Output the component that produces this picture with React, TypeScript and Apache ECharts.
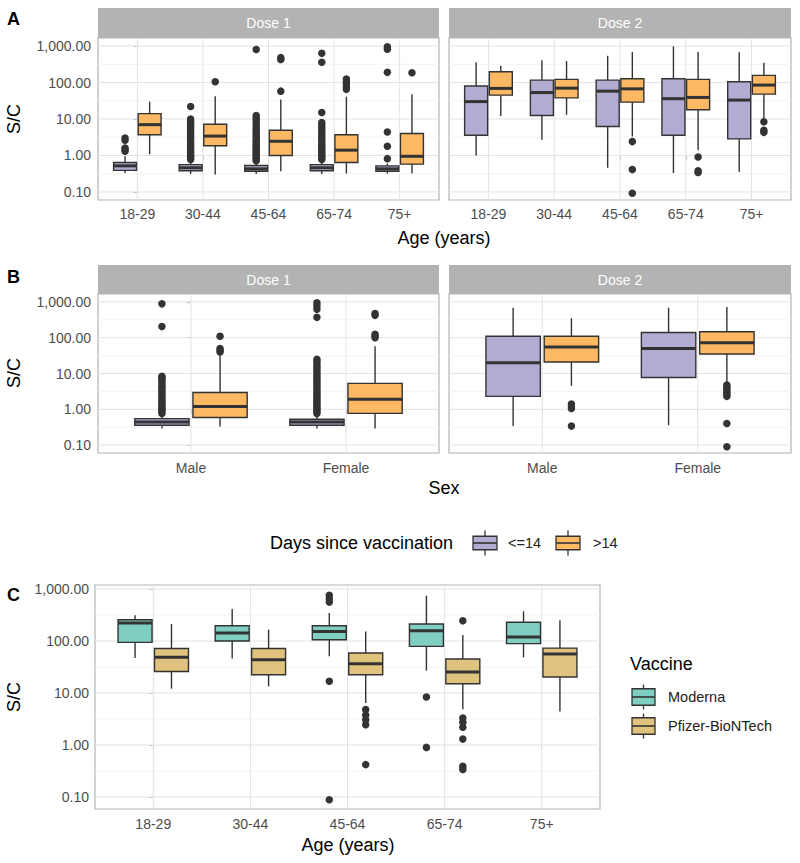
import React, { useEffect, useRef } from "react";
import * as echarts from "echarts";

// ---------- categories / labels ----------
const ageGroups = ["18-29", "30-44", "45-64", "65-74", "75+"];
const sexGroups = ["Male", "Female"];
const doseLabels = ["Dose 1", "Dose 2"];
const daysGroups = ["<=14", ">14"];
const vaccineGroups = ["Moderna", "Pfizer-BioNTech"];
const yTickValues = [0.1, 1, 10, 100, 1000];
const yTickLabels = ["0.10", "1.00", "10.00", "100.00", "1,000.00"];

// ---------- box statistics: [lower whisker, Q1, median, Q3, upper whisker] ----------
// Panel A, Dose 1, by age
const ageD1Early = [
  [0.33, 0.39, 0.52, 0.64, 0.95],
  [0.31, 0.38, 0.46, 0.56, 0.72],
  [0.31, 0.37, 0.43, 0.53, 0.68],
  [0.31, 0.38, 0.46, 0.56, 0.72],
  [0.32, 0.37, 0.43, 0.52, 0.6],
];
const ageD1EarlyOut = [
  [1.3, 1.45, 1.6, 2.6, 3.0],
  [0.78, 0.85, 0.95, 1.05, 1.2, 1.35, 1.5, 1.7, 1.9, 2.2, 2.5, 2.9, 3.3, 3.8, 4.4, 5.0, 5.8, 6.6, 7.6, 8.7, 10, 22],
  [0.72, 0.8, 0.9, 1.0, 1.12, 1.25, 1.4, 1.6, 1.8, 2.0, 2.3, 2.6, 3.0, 3.4, 3.9, 4.5, 5.2, 6.0, 7.0, 8.2, 9.5, 11, 12.5, 800],
  [0.78, 0.86, 0.95, 1.05, 1.18, 1.3, 1.45, 1.65, 1.85, 2.1, 2.4, 2.8, 3.2, 3.7, 4.3, 5.0, 5.8, 6.8, 8.0, 15, 360, 630],
  [0.82, 1.8, 4.4, 190, 820, 950],
];
const ageD1Late = [
  [1.08, 3.7, 7.0, 14, 30],
  [0.3, 1.85, 3.4, 7.2, 42],
  [0.37, 1.0, 2.45, 4.9, 34],
  [0.32, 0.64, 1.4, 3.7, 41],
  [0.32, 0.58, 0.95, 4.0, 48],
];
const ageD1LateOut = [[], [105], [58, 430, 480], [65, 75, 90, 105, 125], [185]];

// Panel A, Dose 2, by age
const ageD2Early = [
  [1.0, 3.6, 30, 80, 360],
  [2.7, 12.5, 53, 116, 410],
  [0.46, 6.2, 58, 116, 540],
  [0.33, 3.6, 36, 127, 980],
  [0.35, 2.85, 33, 105, 670],
];
const ageD2EarlyOut = [[], [], [], [], []];
const ageD2Late = [
  [12, 45, 69, 197, 288],
  [13, 38, 70, 122, 387],
  [3.3, 29, 67, 127, 684],
  [1.4, 18, 39, 122, 684],
  [10.3, 48, 85, 157, 348],
];
const ageD2LateOut = [[], [], [2.4, 0.41, 0.092], [0.91, 0.38, 0.34], [8.4, 4.9, 4.3]];

// Panel B, by sex
const sexD1Early = [
  [0.29, 0.36, 0.44, 0.55, 0.72],
  [0.29, 0.36, 0.44, 0.53, 0.72],
];
const sexD1EarlyOut = [
  [0.76, 0.85, 0.95, 1.05, 1.2, 1.35, 1.5, 1.7, 1.95, 2.2, 2.5, 2.9, 3.3, 3.8, 4.4, 5.1, 5.9, 6.8, 7.8, 8.4, 205, 880],
  [0.76, 0.85, 0.95, 1.05, 1.2, 1.35, 1.5, 1.7, 1.95, 2.2, 2.5, 2.9, 3.3, 3.8, 4.4, 5.1, 5.9, 6.8, 7.8, 9.0, 10.5, 12, 14, 16, 19, 22, 25, 370, 620, 780, 950],
];
const sexD1Late = [
  [0.33, 0.59, 1.2, 2.95, 32],
  [0.29, 0.77, 1.9, 5.3, 58],
];
const sexD1LateOut = [[40, 44, 50, 110], [100, 112, 125, 420, 470]];
const sexD2Early = [
  [0.34, 2.3, 20, 110, 690],
  [0.36, 7.7, 50, 139, 690],
];
const sexD2EarlyOut = [[], []];
const sexD2Late = [
  [4.5, 21, 55, 110, 350],
  [5.3, 35, 72, 146, 725],
];
const sexD2LateOut = [[1.4, 1.2, 1.05, 0.34], [4.8, 4.2, 3.7, 3.3, 2.9, 2.6, 2.3, 0.4, 0.09]];

// Panel C, by vaccine
const moderna = [
  [47, 94, 222, 257, 312],
  [46, 100, 143, 197, 412],
  [51, 106, 153, 197, 345],
  [27, 79, 158, 212, 745],
  [48.5, 89, 119, 229, 372],
];
const modernaOut = [[], [], [16.8, 0.089, 560, 650, 760], [8.4, 0.9], []];
const pfizer = [
  [12.1, 26, 48.5, 72, 212],
  [13.4, 22.5, 43.7, 72, 165],
  [6.4, 22.5, 36.6, 59, 153],
  [4.9, 15.1, 25.4, 45, 130],
  [4.4, 20.3, 56, 73, 250],
];
const pfizerOut = [[], [], [4.8, 3.8, 3.07, 2.46, 0.42], [246, 3.3, 2.73, 2.19, 1.3, 0.39, 0.34], []];

// ---------- styling ----------
const FONT = "'Liberation Sans', Arial, Helvetica, sans-serif";
const PURPLE = "#B2ABD2";
const ORANGE = "#FDB863";
const TEAL = "#80CDC1";
const TAN = "#DFC27D";
const LINE = "#333333";
const BORDER = "#B3B3B3";
const BOX_W = 0.35;
const DODGE = 0.1875;

const L = (v: number) => Math.log10(v);

function boxSeries(ax: number, stats: number[][], offset: number, fill: string, name: string) {
  return {
    type: "custom",
    name,
    xAxisIndex: ax,
    yAxisIndex: ax,
    z: 5,
    silent: true,
    encode: { x: 0, y: [1, 2, 3, 4, 5] },
    data: stats.map((s, i) => [i, ...s.map(L)]),
    renderItem: (params: any, api: any) => {
      const x = api.value(0) + offset;
      const lo = api.coord([x, api.value(1)]);
      const q1 = api.coord([x, api.value(2)]);
      const md = api.coord([x, api.value(3)]);
      const q3 = api.coord([x, api.value(4)]);
      const hi = api.coord([x, api.value(5)]);
      const w = api.size([BOX_W, 0])[0];
      const cx = lo[0];
      const ls = { stroke: LINE, lineWidth: 1.4 };
      return {
        type: "group",
        children: [
          { type: "line", shape: { x1: cx, y1: hi[1], x2: cx, y2: q3[1] }, style: ls },
          { type: "line", shape: { x1: cx, y1: q1[1], x2: cx, y2: lo[1] }, style: ls },
          {
            type: "rect",
            shape: { x: cx - w / 2, y: q3[1], width: w, height: q1[1] - q3[1] },
            style: { fill, stroke: LINE, lineWidth: 1.4 },
          },
          {
            type: "line",
            shape: { x1: cx - w / 2, y1: md[1], x2: cx + w / 2, y2: md[1] },
            style: { stroke: LINE, lineWidth: 3 },
          },
        ],
      };
    },
  };
}

function outlierSeries(ax: number, outliers: number[][], offset: number) {
  const data: number[][] = [];
  outliers.forEach((arr, i) => arr.forEach((v) => data.push([i + offset, L(v)])));
  return {
    type: "scatter",
    xAxisIndex: ax,
    yAxisIndex: ax,
    z: 6,
    silent: true,
    symbolSize: 7.5,
    itemStyle: { color: LINE, opacity: 1 },
    data,
  };
}

function gridLineSeries(ax: number, cats: string[]) {
  const major = yTickValues.map(L);
  const minor = yTickValues.slice(0, -1).map((v) => L(v) + 0.5);
  const hline = (color: string, width: number) => (params: any, api: any) => {
    const cs = params.coordSys;
    const p = api.coord([0, api.value(1)]);
    return {
      type: "line",
      shape: { x1: cs.x, y1: p[1], x2: cs.x + cs.width, y2: p[1] },
      style: { stroke: color, lineWidth: width },
    };
  };
  const vline = (params: any, api: any) => {
    const cs = params.coordSys;
    const p = api.coord([api.value(0), 0]);
    return {
      type: "line",
      shape: { x1: p[0], y1: cs.y, x2: p[0], y2: cs.y + cs.height },
      style: { stroke: "#E3E3E3", lineWidth: 1 },
    };
  };
  return [
    { type: "custom", xAxisIndex: ax, yAxisIndex: ax, z: 1, silent: true, data: minor.map((v) => [0, v]), renderItem: hline("#F0F0F0", 0.8) },
    { type: "custom", xAxisIndex: ax, yAxisIndex: ax, z: 1, silent: true, data: major.map((v) => [0, v]), renderItem: hline("#E3E3E3", 1) },
    { type: "custom", xAxisIndex: ax, yAxisIndex: ax, z: 1, silent: true, data: cats.map((_, i) => [i, 0]), renderItem: vline },
  ];
}

function xAxisFor(ax: number, cats: string[], margin: number) {
  const vals = cats.map((_, i) => i);
  return {
    type: "value",
    gridIndex: ax,
    min: -0.6,
    max: cats.length - 0.4,
    axisLine: { show: false },
    splitLine: { show: false },
    axisTick: { show: true, customValues: vals, length: 4, lineStyle: { color: BORDER, width: 1 } },
    axisLabel: {
      customValues: vals,
      formatter: (v: number) => cats[Math.round(v)] ?? "",
      color: "#4D4D4D",
      fontSize: 14,
      fontFamily: FONT,
      margin,
    },
  };
}

function yAxisFor(ax: number, min: number, max: number, show: boolean, margin: number) {
  const vals = yTickValues.map(L);
  return {
    type: "value",
    gridIndex: ax,
    min,
    max,
    axisLine: { show: false },
    splitLine: { show: false },
    axisTick: { show, customValues: vals, length: 4, lineStyle: { color: BORDER, width: 1 } },
    axisLabel: {
      show,
      customValues: vals,
      formatter: (v: number) => {
        const i = vals.findIndex((t) => Math.abs(t - v) < 1e-6);
        return i >= 0 ? yTickLabels[i] : "";
      },
      color: "#4D4D4D",
      fontSize: 14,
      fontFamily: FONT,
      margin,
    },
  };
}

function text(x: number, y: number, t: string, size: number, opts: any = {}) {
  return {
    type: "text",
    x,
    y,
    rotation: opts.rotation || 0,
    silent: true,
    style: {
      text: t,
      fill: opts.fill || "#000",
      fontSize: size,
      fontWeight: opts.bold ? "bold" : "normal",
      fontFamily: FONT,
      textAlign: opts.align || "center",
      textVerticalAlign: "middle",
    },
  };
}

function strip(g: any, h: number, label: string) {
  return [
    { type: "rect", silent: true, shape: { x: g.left, y: g.top - h, width: g.width, height: h }, style: { fill: BORDER } },
    text(g.left + g.width / 2, g.top - h / 2, label, 14, { fill: "#FFFFFF" }),
  ];
}

function legendKey(x: number, yc: number, w: number, boxH: number, whiskH: number, fill: string) {
  return {
    type: "group",
    silent: true,
    children: [
      { type: "line", shape: { x1: x + w / 2, y1: yc - whiskH / 2, x2: x + w / 2, y2: yc + whiskH / 2 }, style: { stroke: LINE, lineWidth: 1.3 } },
      { type: "rect", shape: { x, y: yc - boxH / 2, width: w, height: boxH }, style: { fill, stroke: LINE, lineWidth: 1.3 } },
      { type: "line", shape: { x1: x, y1: yc, x2: x + w, y2: yc }, style: { stroke: LINE, lineWidth: 1.6 } },
    ],
  };
}

const grids = [
  { left: 98, top: 38, width: 341, height: 162 },
  { left: 449, top: 38, width: 342, height: 162 },
  { left: 98, top: 294, width: 341, height: 159 },
  { left: 449, top: 294, width: 342, height: 159 },
  { left: 95, top: 585, width: 505, height: 224 },
];

export default function App() {
  const ref = useRef<HTMLDivElement>(null);
  useEffect(() => {
    if (!ref.current) return;
    const chart = echarts.init(ref.current, null, { renderer: "svg" });
    const series: any[] = [];
    const panels = [
      { ax: 0, cats: ageGroups, a: ageD1Early, ao: ageD1EarlyOut, b: ageD1Late, bo: ageD1LateOut, ca: PURPLE, cb: ORANGE },
      { ax: 1, cats: ageGroups, a: ageD2Early, ao: ageD2EarlyOut, b: ageD2Late, bo: ageD2LateOut, ca: PURPLE, cb: ORANGE },
      { ax: 2, cats: sexGroups, a: sexD1Early, ao: sexD1EarlyOut, b: sexD1Late, bo: sexD1LateOut, ca: PURPLE, cb: ORANGE },
      { ax: 3, cats: sexGroups, a: sexD2Early, ao: sexD2EarlyOut, b: sexD2Late, bo: sexD2LateOut, ca: PURPLE, cb: ORANGE },
      { ax: 4, cats: ageGroups, a: moderna, ao: modernaOut, b: pfizer, bo: pfizerOut, ca: TEAL, cb: TAN },
    ];
    panels.forEach((p) => {
      const names = p.ax === 4 ? vaccineGroups : daysGroups;
      series.push(...gridLineSeries(p.ax, p.cats));
      series.push(boxSeries(p.ax, p.a, -DODGE, p.ca, names[0]));
      series.push(boxSeries(p.ax, p.b, DODGE, p.cb, names[1]));
      series.push(outlierSeries(p.ax, p.ao, -DODGE));
      series.push(outlierSeries(p.ax, p.bo, DODGE));
    });

    const graphic: any[] = [
      ...strip(grids[0], 30, doseLabels[0]),
      ...strip(grids[1], 30, doseLabels[1]),
      ...strip(grids[2], 29, doseLabels[0]),
      ...strip(grids[3], 29, doseLabels[1]),
      text(7, 19, "A", 18, { bold: true, align: "left" }),
      text(7, 277, "B", 18, { bold: true, align: "left" }),
      text(7, 595, "C", 18, { bold: true, align: "left" }),
      text(14, 119, "S/C", 18, { rotation: Math.PI / 2 }),
      text(14, 373, "S/C", 18, { rotation: Math.PI / 2 }),
      text(14, 697, "S/C", 18, { rotation: Math.PI / 2 }),
      text(444, 238, "Age (years)", 18),
      text(444, 488, "Sex", 18),
      text(348, 845, "Age (years)", 18),
      text(270, 543, "Days since vaccination", 18, { align: "left" }),
      legendKey(473, 543, 24, 13.5, 25, PURPLE),
      text(508, 543, daysGroups[0], 14.5, { align: "left", fill: "#222" }),
      legendKey(556, 543, 24, 13.5, 25, ORANGE),
      text(593, 543, daysGroups[1], 14.5, { align: "left", fill: "#222" }),
      text(630, 664, "Vaccine", 18, { align: "left" }),
      legendKey(632, 697, 23, 16.5, 25, TEAL),
      text(668, 697, vaccineGroups[0], 14.5, { align: "left", fill: "#222" }),
      legendKey(632, 726, 23, 16.5, 25, TAN),
      text(668, 726, vaccineGroups[1], 14.5, { align: "left", fill: "#222" }),
    ];

    chart.setOption({
      animation: false,
      backgroundColor: "#FFFFFF",
      textStyle: { fontFamily: FONT },
      grid: grids.map((g) => ({
        ...g,
        show: true,
        backgroundColor: "transparent",
        borderColor: BORDER,
        borderWidth: 1.2,
        containLabel: false,
      })),
      xAxis: [
        xAxisFor(0, ageGroups, 7),
        xAxisFor(1, ageGroups, 7),
        xAxisFor(2, sexGroups, 8),
        xAxisFor(3, sexGroups, 8),
        xAxisFor(4, ageGroups, 8),
      ],
      yAxis: [
        yAxisFor(0, -1.22, 3.22, true, 7),
        yAxisFor(1, -1.22, 3.22, false, 7),
        yAxisFor(2, -1.22, 3.22, true, 7),
        yAxisFor(3, -1.22, 3.22, false, 7),
        yAxisFor(4, -1.23, 3.077, true, 6),
      ],
      series,
      graphic,
    });
    return () => chart.dispose();
  }, []);
  return (
    <div
      ref={ref}
      style={{ position: "absolute", left: 0, top: 0, width: 800, height: 863, background: "#fff" }}
    />
  );
}
